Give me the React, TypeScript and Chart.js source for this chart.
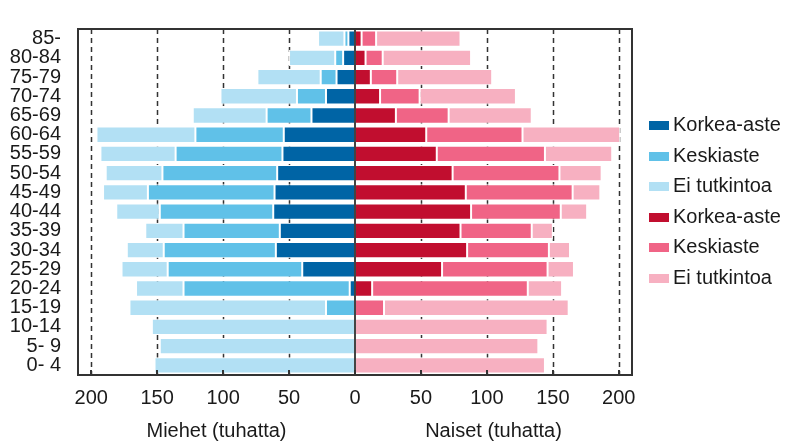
import React, { useEffect, useRef } from "react";
import { Chart, registerables } from "chart.js";
Chart.register(...registerables);

const ageGroups = ["85-", "80-84", "75-79", "70-74", "65-69", "60-64", "55-59", "50-54", "45-49", "40-44", "35-39", "30-34", "25-29", "20-24", "15-19", "10-14", "5- 9", "0- 4"];

// Men (thousands)
const menHigher = [5, 9, 14, 22, 33, 54, 55, 59, 61, 62, 57, 60, 40, 4, 0, 0, 0, 0];
const menSecondary = [3, 6, 12, 22, 34, 67, 81, 87, 96, 86, 73, 85, 102, 126, 22, 0, 0, 0];
const menNone = [20, 35, 48, 58, 56, 75, 57, 43, 34, 33, 29, 28, 35, 36, 149, 154, 148, 152];

// Women (thousands)
const womenHigher = [5, 8, 12, 19, 31, 54, 62, 74, 84, 88, 80, 85, 66, 13, 0, 0, 0, 0];
const womenSecondary = [11, 13, 20, 30, 40, 73, 82, 81, 81, 68, 54, 62, 80, 118, 22, 0, 0, 0];
const womenNone = [64, 67, 72, 73, 63, 74, 51, 32, 21, 20, 16, 16, 20, 26, 140, 146, 139, 144];

const seriesLabels = ["Korkea-aste", "Keskiaste", "Ei tutkintoa"];
const xTickValues = [-200, -150, -100, -50, 0, 50, 100, 150, 200];
const menTitle = "Miehet (tuhatta)";
const womenTitle = "Naiset (tuhatta)";

const blueColors = ["#0064A5", "#60C1E8", "#B2E0F4"];
const redColors = ["#C10E2F", "#F06486", "#F7B0C1"];

const FONT = "'Liberation Sans', Arial, sans-serif";
const TEXT = "#1a1a1a";
const LINE = "#333333";

const customPlugin = {
  id: "pyramidDecor",
  beforeDatasetsDraw(chart: any) {
    const { ctx, chartArea } = chart;
    const x = chart.scales.x;
    ctx.save();
    ctx.strokeStyle = LINE;
    ctx.lineWidth = 1.5;
    ctx.setLineDash([5, 4]);
    xTickValues.forEach((v) => {
      if (v === 0) return;
      const px = Math.round(x.getPixelForValue(v)) + 0.5;
      ctx.beginPath();
      ctx.moveTo(px, chartArea.top);
      ctx.lineTo(px, chartArea.bottom);
      ctx.stroke();
    });
    ctx.restore();
  },
  afterDraw(chart: any) {
    const { ctx, chartArea } = chart;
    const x = chart.scales.x;
    ctx.save();
    // zero line
    const zx = x.getPixelForValue(0);
    ctx.strokeStyle = "#444444";
    ctx.lineWidth = 2;
    ctx.beginPath();
    ctx.moveTo(zx, chartArea.top);
    ctx.lineTo(zx, chartArea.bottom);
    ctx.stroke();
    // bottom tick marks (inside)
    ctx.strokeStyle = LINE;
    ctx.lineWidth = 2;
    xTickValues.forEach((v) => {
      const px = Math.round(x.getPixelForValue(v));
      ctx.beginPath();
      ctx.moveTo(px, chartArea.bottom);
      ctx.lineTo(px, chartArea.bottom - 5);
      ctx.stroke();
    });
    // frame
    ctx.lineWidth = 2;
    ctx.strokeStyle = LINE;
    ctx.strokeRect(chartArea.left, chartArea.top, chartArea.right - chartArea.left, chartArea.bottom - chartArea.top);
    // axis titles
    ctx.fillStyle = TEXT;
    ctx.font = `20px ${FONT}`;
    ctx.textAlign = "center";
    ctx.textBaseline = "alphabetic";
    ctx.fillText(menTitle, (chartArea.left + zx) / 2, 437);
    ctx.fillText(womenTitle, (zx + chartArea.right) / 2, 437);
    // legend
    const items = chart.data.datasets;
    const spacing = 30.5;
    const cy = (chartArea.top + chartArea.bottom) / 2;
    const startY = cy - ((items.length - 1) / 2) * spacing;
    ctx.textAlign = "left";
    ctx.textBaseline = "middle";
    items.forEach((ds: any, i: number) => {
      const y = startY + i * spacing;
      ctx.fillStyle = ds.backgroundColor;
      ctx.fillRect(chartArea.right + 17, Math.round(y - 4.5), 20, 9);
      ctx.fillStyle = TEXT;
      ctx.fillText(ds.label, chartArea.right + 41, y);
    });
    ctx.restore();
  },
};

export default function App() {
  const ref = useRef<HTMLCanvasElement | null>(null);
  useEffect(() => {
    if (!ref.current) return;
    const neg = (a: number[]) => a.map((v) => -v);
    const mk = (label: string, data: number[], color: string) => ({
      label,
      data,
      backgroundColor: color,
      borderColor: "#ffffff",
      borderWidth: 1,
      borderSkipped: false,
      categoryPercentage: 1,
      barPercentage: 0.85,
    });
    const chart = new Chart(ref.current, {
      type: "bar",
      data: {
        labels: ageGroups,
        datasets: [
          mk(seriesLabels[0], neg(menHigher), blueColors[0]),
          mk(seriesLabels[1], neg(menSecondary), blueColors[1]),
          mk(seriesLabels[2], neg(menNone), blueColors[2]),
          mk(seriesLabels[0], womenHigher, redColors[0]),
          mk(seriesLabels[1], womenSecondary, redColors[1]),
          mk(seriesLabels[2], womenNone, redColors[2]),
        ] as any,
      },
      options: {
        indexAxis: "y",
        animation: false,
        responsive: false,
        devicePixelRatio: 1,
        layout: { padding: { top: 6, right: 156, left: 0, bottom: 0 } },
        plugins: {
          legend: { display: false },
          tooltip: { enabled: false },
          title: { display: false },
        },
        scales: {
          x: {
            type: "linear",
            stacked: true,
            min: -210,
            max: 210,
            grid: { display: false, drawTicks: false },
            border: { display: false },
            afterBuildTicks: (scale: any) => {
              scale.ticks = xTickValues.map((v) => ({ value: v }));
            },
            afterFit: (scale: any) => {
              scale.height = 72;
            },
            ticks: {
              autoSkip: false,
              maxRotation: 0,
              padding: 11,
              color: TEXT,
              font: { family: FONT, size: 20 },
              callback: (v: any) => String(Math.abs(Number(v))),
            },
          },
          y: {
            stacked: true,
            grid: { display: false, drawTicks: false },
            border: { display: false },
            afterFit: (scale: any) => {
              scale.width = 78;
            },
            ticks: {
              autoSkip: false,
              padding: 17,
              color: TEXT,
              font: { family: FONT, size: 20 },
            },
          },
        },
      } as any,
      plugins: [customPlugin],
    });
    return () => chart.destroy();
  }, []);
  return (
    <div style={{ position: "absolute", left: 0, top: 0, width: 788, height: 447, background: "#ffffff" }}>
      <canvas ref={ref} width={788} height={447} style={{ width: 788, height: 447, display: "block" }} />
    </div>
  );
}
